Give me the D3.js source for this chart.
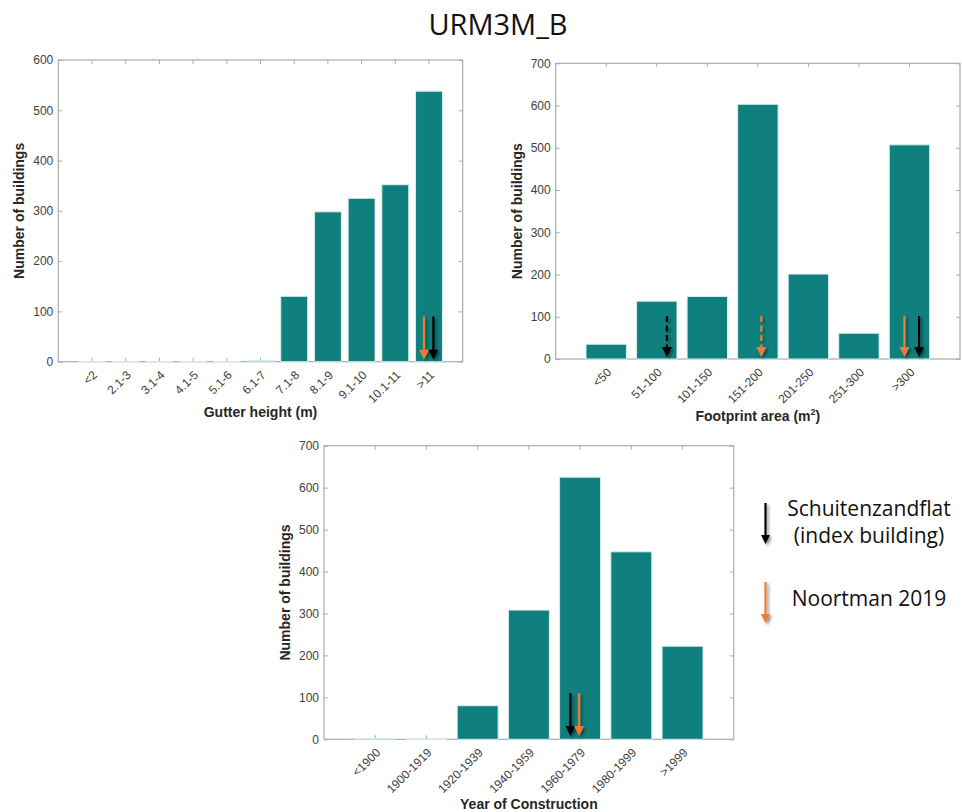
<!DOCTYPE html>
<html><head><meta charset="utf-8">
<script src="https://cdn.jsdelivr.net/npm/d3@7"></script>
<style>body{margin:0;background:#fff}</style>
</head><body>
<svg id="c" width="962" height="812"></svg>
<script>
// ---------- DATA ----------
const gutterCategories = ["<2","2.1-3","3.1-4","4.1-5","5.1-6","6.1-7","7.1-8","8.1-9","9.1-10","10.1-11",">11"];
const gutterValues     = [0,0,0,0,0,2,130,298,325,352,538];
const gutterTicks      = [0,100,200,300,400,500,600];

const footprintCategories = ["<50","51-100","101-150","151-200","201-250","251-300",">300"];
const footprintValues     = [35,137,148,603,201,61,507];
const footprintTicks      = [0,100,200,300,400,500,600,700];

const yearCategories = ["<1900","1900-1919","1920-1939","1940-1959","1960-1979","1980-1999",">1999"];
const yearValues     = [2,0,80,308,625,447,222];
const yearTicks      = [0,100,200,300,400,500,600,700];

// marker arrows: category, offset inside slot (in slots), from value, to value, who, dashed
const gutterArrows = [
  {cat:">11", off:-0.15, from:90, to:4, who:"Noortman", dashed:false},
  {cat:">11", off: 0.13, from:90, to:4, who:"Schuitenzandflat", dashed:false}
];
const footprintArrows = [
  {cat:"51-100",  off: 0.20, from:102, to:5, who:"Schuitenzandflat", dashed:true},
  {cat:"151-200", off: 0.07, from:102, to:5, who:"Noortman", dashed:true},
  {cat:">300",    off:-0.10, from:102, to:5, who:"Noortman", dashed:false},
  {cat:">300",    off: 0.19, from:102, to:5, who:"Schuitenzandflat", dashed:false}
];
const yearArrows = [
  {cat:"1960-1979", off:-0.19, from:110, to:8, who:"Schuitenzandflat", dashed:false},
  {cat:"1960-1979", off:-0.02, from:110, to:8, who:"Noortman", dashed:false}
];
const legendItems = [
  {who:"Schuitenzandflat", lines:["Schuitenzandflat","(index building)"]},
  {who:"Noortman", lines:["Noortman 2019"]}
];
const titleText = "URM3M_B";

// ---------- STYLE ----------
const TEAL = "#10807e", EDGE = "#d6f0ef", FRAME = "#ababab", TXT = "#404040", TITLE_TXT = "#262626";
const arrowColor = {"Schuitenzandflat":"#000000", "Noortman":"#ed7d31"};
const AXFONT = "'Liberation Sans', Arial, Helvetica, sans-serif";
const OFFFONT = "'Open Sans', 'Noto Sans', sans-serif";

const svg = d3.select("#c");
svg.append("rect").attr("width",962).attr("height",812).attr("fill","#fff");
const defs = svg.append("defs");
const f = defs.append("filter").attr("id","shadow").attr("x","-100%").attr("y","-50%").attr("width","300%").attr("height","200%");
f.append("feDropShadow").attr("dx",2).attr("dy",2).attr("stdDeviation",1.6)
 .attr("flood-color","#000").attr("flood-opacity",0.45);

svg.append("text").attr("x",498).attr("y",35).attr("text-anchor","middle")
  .attr("font-family",OFFFONT).attr("font-size",29).attr("fill","#111").text(titleText);

function drawArrow(g, x, y0, y1, color, dashed, head) {
  const a = g.append("g").attr("filter","url(#shadow)");
  const hw = head/2, hh = head;
  a.append("line").attr("x1",x).attr("x2",x).attr("y1",y0).attr("y2",y1-hh+1)
    .attr("stroke",color).attr("stroke-width",2.2)
    .attr("stroke-dasharray", dashed ? "6,3.5" : null);
  a.append("path").attr("d",`M${x-hw},${y1-hh}L${x+hw},${y1-hh}L${x},${y1}Z`).attr("fill",color);
}

function drawChart(cfg) {
  const {cats, vals, ticks, left, right, top, bottom, xTitle, xTitleY, arrows} = cfg;
  const g = svg.append("g");
  const x = d3.scaleBand().domain(cats).range([left,right]).paddingInner(0.2).paddingOuter(0.6);
  const y = d3.scaleLinear().domain([0, ticks[ticks.length-1]]).range([bottom, top]);

  // frame
  g.append("rect").attr("x",left).attr("y",top).attr("width",right-left).attr("height",bottom-top)
    .attr("fill","none").attr("stroke",FRAME).attr("stroke-width",1.2);

  // y axis left
  const ya = g.append("g").attr("transform",`translate(${left},0)`)
    .call(d3.axisLeft(y).tickValues(ticks).tickSize(-4).tickPadding(5).tickFormat(d3.format("d")));
  ya.select(".domain").remove();
  ya.selectAll("line").attr("stroke",FRAME);
  ya.selectAll("text").attr("font-family",AXFONT).attr("font-size",12).attr("fill",TXT);
  // y axis right (ticks only)
  const yr = g.append("g").attr("transform",`translate(${right},0)`)
    .call(d3.axisRight(y).tickValues(ticks).tickSize(-4).tickFormat(""));
  yr.select(".domain").remove(); yr.selectAll("line").attr("stroke",FRAME);
  // x axis bottom
  const xa = g.append("g").attr("transform",`translate(0,${bottom})`)
    .call(d3.axisBottom(x).tickSize(-4).tickSizeOuter(0));
  xa.select(".domain").remove();
  xa.selectAll("line").attr("stroke",FRAME);
  xa.selectAll("text").attr("font-family",AXFONT).attr("font-size",12).attr("fill",TXT)
    .attr("text-anchor","end").attr("y",0).attr("dy","0.35em")
    .attr("transform","translate(3,11) rotate(-45)");
  // x axis top (ticks only)
  const xt = g.append("g").attr("transform",`translate(0,${top})`)
    .call(d3.axisTop(x).tickSize(-4).tickSizeOuter(0).tickFormat(""));
  xt.select(".domain").remove(); xt.selectAll("line").attr("stroke",FRAME);

  // bars
  g.selectAll("path.bar").data(cats.map((c,i)=>({c, v:vals[i]}))).join("path")
    .attr("class","bar")
    .attr("d", d => {
      const x0 = x(d.c), x1 = x(d.c)+x.bandwidth(), y0 = y(0), y1 = y(d.v);
      return `M${x0},${y0}H${x1}V${y1}H${x0}Z`;
    })
    .attr("fill",TEAL).attr("stroke",EDGE).attr("stroke-width",1);

  // titles
  const xt2 = g.append("text").attr("x",(left+right)/2).attr("y",xTitleY).attr("text-anchor","middle")
    .attr("font-family",AXFONT).attr("font-weight","bold").attr("font-size",14).attr("fill",TITLE_TXT);
  xTitle(xt2);
  g.append("text").attr("transform",`translate(${left-34},${(top+bottom)/2}) rotate(-90)`)
    .attr("text-anchor","middle").attr("font-family",AXFONT).attr("font-weight","bold")
    .attr("font-size",14).attr("fill",TITLE_TXT).text("Number of buildings");

  // arrows
  arrows.forEach(a => {
    const ax = x(a.cat) + x.bandwidth()/2 + a.off * x.step();
    drawArrow(g, ax, y(a.from), y(a.to), arrowColor[a.who], a.dashed, 10);
  });
}

drawChart({cats:gutterCategories, vals:gutterValues, ticks:gutterTicks,
  left:58.3, right:462.7, top:60, bottom:361.7, xTitleY:417,
  xTitle: t => t.text("Gutter height (m)"), arrows:gutterArrows});
drawChart({cats:footprintCategories, vals:footprintValues, ticks:footprintTicks,
  left:555.7, right:960, top:63.3, bottom:359, xTitleY:421,
  xTitle: t => { t.append("tspan").text("Footprint area (m");
                 t.append("tspan").attr("dy",-6).attr("font-size",9).text("2");
                 t.append("tspan").attr("dy",6).text(")"); }, arrows:footprintArrows});
drawChart({cats:yearCategories, vals:yearValues, ticks:yearTicks,
  left:324, right:733.75, top:445.7, bottom:739.3, xTitleY:809,
  xTitle: t => t.text("Year of Construction"), arrows:yearArrows});

// legend
const lg = svg.append("g");
const legendPos = [{ay0:503, ay1:544, ty:516}, {ay0:582, ay1:623, ty:606}];
legendItems.forEach((it,i) => {
  const p = legendPos[i];
  drawArrow(lg, 765.5, p.ay0, p.ay1, arrowColor[it.who], false, 9);
  it.lines.forEach((ln,j) => {
    lg.append("text").attr("x",869).attr("y",p.ty + j*27).attr("text-anchor","middle")
      .attr("font-family",OFFFONT).attr("font-size",21).attr("fill","#111").text(ln);
  });
});
</script>
</body></html>
